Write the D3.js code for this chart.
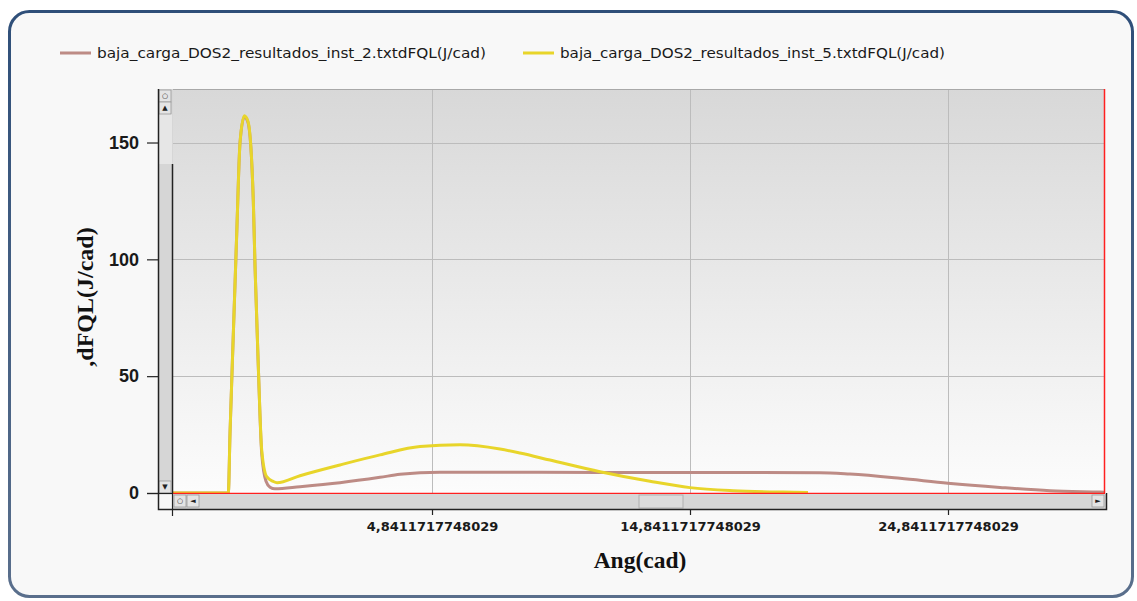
<!DOCTYPE html>
<html lang="en">
<head>
    <meta charset="UTF-8">
    <title>dFQL vs Ang</title>
    <style>
        body { margin: 0; background: #fff; }
        svg { display: block; }
    </style>
</head>
<body>
    <svg id="chart" width="1137" height="601"></svg>
    <script src="https://d3js.org/d3.v7.min.js"></script>
    <script>
        // series names and colours
        const seriesNames = [
            "baja_carga_DOS2_resultados_inst_2.txtdFQL(J/cad)",
            "baja_carga_DOS2_resultados_inst_5.txtdFQL(J/cad)"
        ];
        const seriesColors = ["#bd8b85", "#e8d52a"];

        // brown series (inst_2): [Ang, dFQL]
        const inst2 = [
            [-5.198, 0], [-3.054, 0], [-2.988, 25.6], [-2.860, 68], [-2.728, 111],
            [-2.600, 150], [-2.434, 161], [-2.290, 158.5], [-2.085, 125], [-2.019, 97],
            [-1.891, 54], [-1.760, 17], [-1.593, 5], [-1.438, 2.5], [-1.244, 1.8],
            [-0.275, 2.7], [1.275, 4.4], [2.826, 6.7], [3.601, 8.0], [4.376, 8.7],
            [5.151, 8.9], [11.353, 8.8], [19.88, 8.7], [21.043, 8.1], [22.981, 6.3],
            [24.841, 4.2], [26.857, 2.4], [28.795, 1.0], [30.733, 0.4], [30.888, 0.35]
        ];

        // yellow series (inst_5): [Ang, dFQL]
        const inst5 = [
            [-5.198, 0], [-3.054, 0], [-2.988, 25.6], [-2.860, 68], [-2.728, 111],
            [-2.600, 150], [-2.434, 161.4], [-2.290, 159], [-2.085, 125], [-2.019, 97],
            [-1.891, 54], [-1.760, 18.5], [-1.566, 7], [-1.321, 5.0], [-1.166, 4.4],
            [-0.275, 7.4], [1.275, 12], [2.826, 16.3], [4.376, 19.9], [5.926, 20.6],
            [7.477, 18.8], [8.252, 17.1], [9.415, 14.1], [11.353, 9.1], [13.291, 5.0],
            [14.841, 2.3], [16.508, 1.0], [18.446, 0.4], [19.415, 0.25]
        ];

        // axis ticks
        const xDomain = [-5.198, 30.888];
        const yDomain = [0, 172.9];
        const xTickValues = [4.8411717748029, 14.8411717748029, 24.8411717748029];
        const xTickLabels = ["4,8411717748029", "14,8411717748029", "24,8411717748029"];
        const yTickValues = [0, 50, 100, 150];

        const svg = d3.select("#chart");

        // plot box in pixels
        const pL = 173, pR = 1104, pT = 89, pB = 493;
        const boxLeft = 158, boxBottom = 509, boxRight = 1106;

        const defs = svg.append("defs");
        const grad = defs.append("linearGradient")
            .attr("id", "plotBg").attr("x1", 0).attr("y1", 0).attr("x2", 0).attr("y2", 1);
        grad.append("stop").attr("offset", "0%").attr("stop-color", "#d8d8d8");
        grad.append("stop").attr("offset", "100%").attr("stop-color", "#fcfcfc");

        const borderGrad = defs.append("linearGradient")
            .attr("id", "borderBg").attr("x1", 0).attr("y1", 0).attr("x2", 0).attr("y2", 1);
        borderGrad.append("stop").attr("offset", "0%").attr("stop-color", "#2f4f79");
        borderGrad.append("stop").attr("offset", "100%").attr("stop-color", "#5a6f8c");

        // outer rounded panel
        svg.append("rect")
            .attr("x", 9.5).attr("y", 11.5)
            .attr("width", 1123).attr("height", 585)
            .attr("rx", 20)
            .attr("fill", "#f8f8f8")
            .attr("stroke", "url(#borderBg)")
            .attr("stroke-width", 3);

        const x = d3.scaleLinear().domain(xDomain).range([pL, pR]);
        const y = d3.scaleLinear().domain(yDomain).range([pB, pT]);

        // plot background
        svg.append("rect")
            .attr("x", pL).attr("y", pT)
            .attr("width", pR - pL).attr("height", pB - pT)
            .attr("fill", "url(#plotBg)");

        // grid
        svg.append("g")
            .selectAll("line")
            .data(yTickValues.filter(d => d > 0))
            .enter().append("line")
            .attr("x1", pL).attr("x2", pR)
            .attr("y1", d => Math.round(y(d)) + 0.5).attr("y2", d => Math.round(y(d)) + 0.5)
            .attr("stroke", "#bcbcbc");

        svg.append("g")
            .selectAll("line")
            .data(xTickValues)
            .enter().append("line")
            .attr("x1", d => Math.round(x(d)) + 0.5).attr("x2", d => Math.round(x(d)) + 0.5)
            .attr("y1", pT).attr("y2", pB)
            .attr("stroke", "#bcbcbc");

        // top border of plot
        svg.append("line")
            .attr("x1", boxLeft).attr("x2", pR)
            .attr("y1", pT + 0.5).attr("y2", pT + 0.5)
            .attr("stroke", "#a8a8a8");

        // series lines
        const line = d3.line()
            .x(d => x(d[0]))
            .y(d => y(d[1]))
            .curve(d3.curveMonotoneX);

        [inst2, inst5].forEach((data, i) => {
            svg.append("path")
                .datum(data)
                .attr("fill", "none")
                .attr("stroke", seriesColors[i])
                .attr("stroke-width", 3)
                .attr("stroke-linejoin", "round")
                .attr("d", line);
        });

        // red right and bottom edges
        svg.append("line")
            .attr("x1", pR + 0.5).attr("x2", pR + 0.5)
            .attr("y1", pT).attr("y2", pB)
            .attr("stroke", "#ff2020").attr("stroke-width", 1.5);
        svg.append("line")
            .attr("x1", pL).attr("x2", pR + 1)
            .attr("y1", pB + 0.5).attr("y2", pB + 0.5)
            .attr("stroke", "#ff2020").attr("stroke-width", 1.5);

        // vertical scrollbar
        const sb = svg.append("g");
        sb.append("rect").attr("x", boxLeft).attr("y", pT)
            .attr("width", pL - boxLeft).attr("height", pB - pT)
            .attr("fill", "#d6d6d6");
        sb.append("rect").attr("x", boxLeft + 1).attr("y", 114)
            .attr("width", pL - boxLeft - 2).attr("height", 50)
            .attr("fill", "#e6e6e6");
        sb.append("line").attr("x1", pL - 0.5).attr("x2", pL - 0.5)
            .attr("y1", 164).attr("y2", pB)
            .attr("stroke", "#222").attr("stroke-width", 1.5);

        // horizontal scrollbar
        sb.append("rect").attr("x", pL).attr("y", pB + 1)
            .attr("width", boxRight - pL).attr("height", boxBottom - pB - 1)
            .attr("fill", "#d6d6d6");
        sb.append("rect").attr("x", 639).attr("y", pB + 2)
            .attr("width", 44).attr("height", boxBottom - pB - 3)
            .attr("fill", "#dcdcdc").attr("stroke", "#b0b0b0");

        // scrollbar buttons
        const buttons = [
            { x: boxLeft + 1, y: pT + 1, t: "○" },
            { x: boxLeft + 1, y: pT + 13, t: "▲" },
            { x: boxLeft + 1, y: pB - 12, t: "▼" },
            { x: pL + 1, y: pB + 2, t: "○" },
            { x: pL + 14, y: pB + 2, t: "◄" },
            { x: boxRight - 14, y: pB + 2, t: "►" }
        ];
        const btn = sb.selectAll(".btn").data(buttons).enter().append("g")
            .attr("class", "btn")
            .attr("transform", d => `translate(${d.x},${d.y})`);
        btn.append("rect").attr("width", 12).attr("height", 12)
            .attr("fill", "#e4e4e4").attr("stroke", "#9a9a9a").attr("stroke-width", 0.8);
        btn.append("text").attr("x", 6).attr("y", 6).attr("dy", "0.35em")
            .attr("text-anchor", "middle")
            .style("font-family", "DejaVu Sans").style("font-size", "7px")
            .attr("fill", "#222").text(d => d.t);

        // frame lines
        svg.append("path")
            .attr("d", `M${boxLeft + 0.5},${pT} V${boxBottom + 0.5} H${boxRight + 0.5} V${pB}`)
            .attr("fill", "none").attr("stroke", "#222").attr("stroke-width", 1.5);

        // y axis
        const yAxis = svg.append("g")
            .attr("transform", `translate(${boxLeft},0)`)
            .call(d3.axisLeft(y).tickValues(yTickValues).tickSize(11).tickPadding(8));
        yAxis.select(".domain").remove();
        yAxis.selectAll("line").attr("stroke", "#222").attr("stroke-width", 1.2);
        yAxis.selectAll("text")
            .style("font-family", "Liberation Sans, Arial, sans-serif")
            .style("font-size", "18px")
            .style("font-weight", "bold")
            .attr("fill", "#1a1a1a");

        // zero tick extends across the scrollbar, and left edge tick
        svg.append("line").attr("x1", 147).attr("x2", pL)
            .attr("y1", pB + 0.5).attr("y2", pB + 0.5)
            .attr("stroke", "#222").attr("stroke-width", 1.2);
        svg.append("line").attr("x1", pL - 0.5).attr("x2", pL - 0.5)
            .attr("y1", pB).attr("y2", 516)
            .attr("stroke", "#222").attr("stroke-width", 1.2);

        // x axis
        const xAxis = svg.append("g")
            .attr("transform", `translate(0,${boxBottom})`)
            .call(d3.axisBottom(x).tickValues(xTickValues)
                .tickFormat((d, i) => xTickLabels[i]).tickSize(6).tickPadding(7));
        xAxis.select(".domain").remove();
        xAxis.selectAll("line").attr("stroke", "#222").attr("stroke-width", 1.2);
        xAxis.selectAll("text")
            .style("font-family", "DejaVu Sans, sans-serif")
            .style("font-size", "13px")
            .style("font-weight", "bold")
            .attr("fill", "#1a1a1a");

        // axis titles
        svg.append("text")
            .attr("x", 640).attr("y", 568)
            .attr("text-anchor", "middle")
            .style("font-family", "Liberation Serif, Times New Roman, serif")
            .style("font-size", "23.5px")
            .style("font-weight", "bold")
            .attr("fill", "#111")
            .text("Ang(cad)");

        svg.append("text")
            .attr("transform", "translate(93,297) rotate(-90)")
            .attr("text-anchor", "middle")
            .style("font-family", "Liberation Serif, Times New Roman, serif")
            .style("font-size", "24px")
            .style("font-weight", "bold")
            .attr("fill", "#111")
            .text(",dFQL(J/cad)");

        // legend
        const legendPos = [{ lx: 60, tx: 97, w: 389 }, { lx: 523, tx: 560, w: 385 }];
        seriesNames.forEach((name, i) => {
            const p = legendPos[i];
            svg.append("line")
                .attr("x1", p.lx).attr("x2", p.lx + 31)
                .attr("y1", 53).attr("y2", 53)
                .attr("stroke", seriesColors[i]).attr("stroke-width", 3);
            svg.append("text")
                .attr("x", p.tx).attr("y", 58)
                .attr("textLength", p.w)
                .attr("lengthAdjust", "spacingAndGlyphs")
                .style("font-family", "DejaVu Sans, sans-serif")
                .style("font-size", "14.5px")
                .attr("fill", "#1a1a1a")
                .text(name);
        });
    </script>
</body>
</html>
